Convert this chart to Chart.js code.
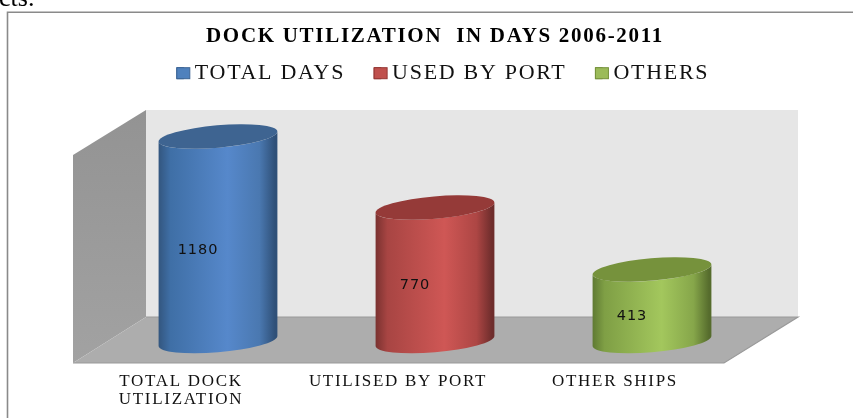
<!DOCTYPE html>
<html><head><meta charset="utf-8">
<style>html,body{margin:0;padding:0;background:#fff}canvas{display:block;filter:blur(0.35px)}</style>
<script src="https://cdn.jsdelivr.net/npm/chart.js@4"></script></head>
<body><canvas id="c" width="853" height="418"></canvas>
<script>
const chartTitle = 'DOCK UTILIZATION  IN DAYS 2006-2011';
const categories = [['TOTAL DOCK','UTILIZATION'],'UTILISED BY PORT','OTHER SHIPS'];
const totalDays = [1180,null,null];
const usedByPort = [null,770,null];
const others = [null,null,413];
const serif = '"Liberation Serif"';

const palettes = [
 {stops:['#33567f','#3f6fa6','#5688cb','#4a78b0','#2f5078'],top:'#3e6491',box:'#4f81bd',line:'#3c6494'},
 {stops:['#7a3230','#a84543','#cf5755','#ad4644','#6e2d2c'],top:'#953a38',box:'#c0504d',line:'#953735'},
 {stops:['#5f7a33','#7f9f45','#a3c75d','#86a64a','#566c2d'],top:'#76923c',box:'#9bbb59',line:'#76923c'}
];
const scene = {
 id:'scene',
 beforeLayout(ch){ ch.ctx.letterSpacing='1.7px'; },
 afterLayout(ch){ ch.legend.left+=8; ch.legend.right+=8; },
 beforeDraw(ch){
  const c=ch.ctx, a=ch.chartArea, b=a.bottom;
  const shift=36.5, lift=23;
  const P=(pts,f)=>{c.beginPath();pts.forEach((p,i)=>i?c.lineTo(p[0],p[1]):c.moveTo(p[0],p[1]));c.closePath();c.fillStyle=f;c.fill();};
  const fl=a.left-shift, fr=a.right-shift, bl=a.left+shift, br=a.right+shift+1;
  const fy=b+lift-1, by=b-lift-1, ty=b-231;
  c.save();
  c.letterSpacing='0px';
  c.fillStyle='#000';c.font='26px '+serif;c.textBaseline='alphabetic';c.fillText('cts.',-1,6);
  c.strokeStyle='#8a8a8a';c.lineWidth=1.6;c.beginPath();c.moveTo(7.5,418);c.lineTo(7.5,12.2);c.lineTo(853,12.2);c.stroke();
  P([[bl,ty],[br,ty],[br,by],[bl,by]],'#e6e6e6');
  const lg=c.createLinearGradient(0,ty,0,fy);lg.addColorStop(0,'#939393');lg.addColorStop(1,'#a2a2a2');
  P([[fl,ty+45],[bl,ty],[bl,by],[fl,fy]],lg);
  P([[fl,fy],[bl,by],[br,by],[fr,fy]],'#adadad');
  c.strokeStyle='#9a9a9a';c.lineWidth=1.2;c.beginPath();c.moveTo(fl,fy);c.lineTo(fr,fy);c.lineTo(br,by);c.lineTo(bl,by);c.stroke();
  c.restore();
 },
 beforeDatasetDraw(ch,args){
  const c=ch.ctx, meta=args.meta, pal=palettes[args.index];
  meta.data.forEach((bar,i)=>{
   if(ch.data.datasets[args.index].data[i]==null) return;
   const hw=bar.width/2, cx=bar.x, T=bar.y, B=bar.base;
   const th=0.0865, eb=11.2, ea=Math.sqrt(Math.max(hw*hw-eb*eb*Math.sin(th)**2,1)/Math.cos(th)**2);
   const t0=Math.atan(eb/ea*Math.tan(th));
   const off=ea*Math.cos(t0)*Math.sin(th)-eb*Math.sin(t0)*Math.cos(th);
   const g=c.createLinearGradient(cx-hw,0,cx+hw,0);
   [0,.1,.58,.85,.98].forEach((s,k)=>g.addColorStop(s,pal.stops[k]));
   c.save();
   c.beginPath();c.moveTo(cx-hw,T+off);c.lineTo(cx-hw,B+off);
   c.ellipse(cx,B,ea,eb,-th,t0+Math.PI,t0,true);
   c.lineTo(cx+hw,T-off);
   c.ellipse(cx,T,ea,eb,-th,t0,t0+Math.PI,false);
   c.closePath();c.fillStyle=g;c.fill();
   c.beginPath();c.ellipse(cx,T,ea,eb,-th,0,Math.PI*2);c.fillStyle=pal.top;c.fill();
   c.letterSpacing='0.9px';
   c.font='14.5px "DejaVu Sans"';c.fillStyle='#111';c.textAlign='center';c.textBaseline='middle';
   c.fillText(String(ch.data.datasets[args.index].data[i]),cx-20,(T+B)/2+11);
   c.restore();
  });
  return false;
 },
 afterDraw(ch){
  const c=ch.ctx, L=ch.legend;
  L.legendHitBoxes.forEach((h,i)=>{
   const p=palettes[i];
   c.save();
   c.fillStyle=p.box;c.strokeStyle=p.line;c.lineWidth=1;
   const y=h.top+h.height/2-5.5;
   c.fillRect(h.left,y,13,11);c.strokeRect(h.left,y,13,11);
   c.restore();
  });
 }
};
const ds=(label,data,i)=>({label,data,grouped:false,backgroundColor:palettes[i].box,borderColor:palettes[i].line,borderWidth:1,barPercentage:.73,categoryPercentage:.75});
new Chart(document.getElementById('c'),{
 type:'bar',
 data:{labels:categories,datasets:[ds('TOTAL DAYS',totalDays,0),ds('USED BY PORT',usedByPort,1),ds('OTHERS',others,2)]},
 plugins:[scene],
 options:{
  responsive:false,animation:false,
  layout:{padding:{left:109.5,right:92.5,top:24,bottom:0}},
  plugins:{
   tooltip:{enabled:false},
   title:{display:true,text:chartTitle,color:'#000',font:{family:serif,size:21,weight:'bold'},padding:{top:0,bottom:-16}},
   legend:{position:'top',labels:{color:'#111',font:{family:serif,size:22},boxWidth:7,boxHeight:11,padding:29}}
  },
  scales:{
   x:{grid:{display:false},border:{display:false},ticks:{color:'#111',font:{family:serif,size:17,lineHeight:1.08},labelOffset:-37,maxRotation:0,autoSkip:false,padding:23},
      afterFit(s){s.height=77;}},
   y:{display:false,min:0,max:1424}
  }
 }
});
</script></body></html>
